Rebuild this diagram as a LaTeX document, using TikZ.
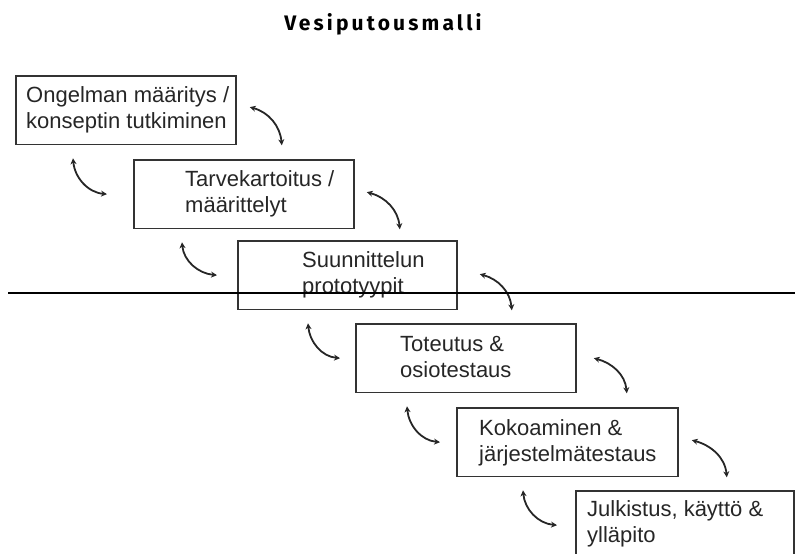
\documentclass[tikz,border=0pt]{standalone}
\usepackage{fontspec}
\setmainfont{Liberation Sans}
\newfontfamily\titlefont[LetterSpace=15]{Fira Sans}
\usetikzlibrary{arrows.meta}

\tikzset{
  box/.style={draw=black!80, line width=1.8pt, anchor=north west,
    minimum width=220pt, minimum height=68.5pt, inner sep=0pt},
  txt/.style={anchor=north west, inner sep=0pt, align=left, text=black!85,
    font=\fontsize{22}{26}\selectfont},
  swing/.style={line width=1.8pt, black!85,
    {Stealth[length=6pt,width=6pt]}-{Stealth[length=6pt,width=6pt]}},
}

\begin{document}
\begin{tikzpicture}[x=1pt,y=1pt]
  \useasboundingbox (0,0) rectangle (795,-554);
  \clip (0,0) rectangle (795,-554);

  \node[anchor=base, font=\titlefont\bfseries\fontsize{21}{24}\selectfont] (title) at (383,-30) {Vesiputousmalli};

  % the steps
  \node[box] (b1) at (15,-75) {};
  \node[box] (b2) at (133,-159) {};
  \node[box, minimum width=219pt] (b3) at (237,-240) {};
  \node[box] (b4) at (355,-323) {};
  \node[box, minimum width=221pt] (b5) at (456,-407) {};
  \node[box, minimum width=218pt] (b6) at (575,-490) {};

  \node[txt] (t1) at ([shift={(11,-9)}]b1.north west) {\strut Ongelman määritys /\\konseptin tutkiminen};
  \node[txt] (t2) at ([shift={(52,-9)}]b2.north west) {\strut Tarvekartoitus /\\määrittelyt};
  \node[txt] (t3) at ([shift={(65,-9)}]b3.north west) {\strut Suunnittelun\\prototyypit};
  \node[txt] (t4) at ([shift={(45,-10)}]b4.north west) {\strut Toteutus \&\\osiotestaus};
  \node[txt] (t5) at ([shift={(23,-10)}]b5.north west) {\strut Kokoaminen \&\\järjestelmätestaus};
  \node[txt] (t6) at ([shift={(12,-8)}]b6.north west) {\strut Julkistus, käyttö \&\\ylläpito};

  % arrows going down
  \foreach \a/\sx/\sy/\ex in {b1/13/3/45, b2/12/2/45, b3/22/1/54, b4/17/0/50, b5/13/2/48} {
    \draw[swing] ([shift={(\sx,\sy)}]\a.east) to[out=-15,in=95] ([shift={(\ex,0)}]\a.south east);
  }
  % arrows going back
  \foreach \a/\b/\sx/\ex in {b1/b2/58/26, b2/b3/49/20, b3/b4/71/15, b4/b5/52/16, b5/b6/67/18} {
    \draw[swing] ([shift={(\sx,-13)}]\a.south west) to[out=-85,in=175] ([shift={(-\ex,0)}]\b.west);
  }

  \draw[line width=2pt] (8,-293) coordinate (l0) -- (795,-293) coordinate (l1);
\end{tikzpicture}
\end{document}
